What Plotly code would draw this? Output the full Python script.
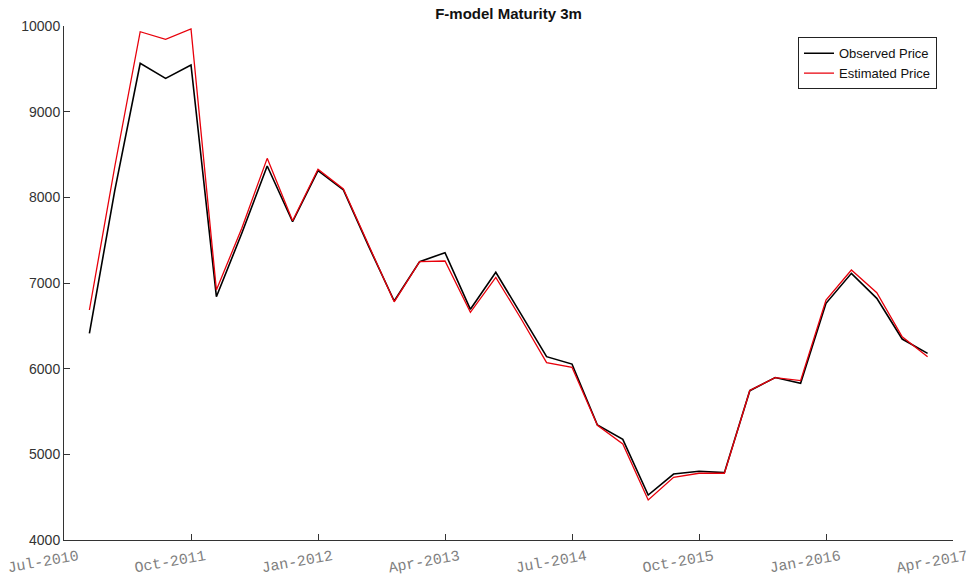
import plotly.graph_objects as go

# Quarterly observation index along the horizontal axis
period_index = list(range(1, 35))

observed_price = [
    6413, 8080, 9564, 9389, 9545, 6840, 7580, 8366, 7715, 8311,
    8086, 7424, 6790, 7249, 7354, 6693, 7125, 6640, 6140, 6054,
    5342, 5175, 4525, 4770, 4802, 4786, 5743, 5896, 5829, 6763,
    7113, 6821, 6346, 6179,
]

estimated_price = [
    6685, 8360, 9933, 9845, 9965, 6918, 7640, 8455, 7727, 8327,
    8097, 7430, 6780, 7249, 7257, 6658, 7066, 6580, 6070, 6016,
    5340, 5121, 4467, 4732, 4779, 4779, 5745, 5896, 5860, 6801,
    7152, 6887, 6373, 6140,
]

tick_positions = [0, 5, 10, 15, 20, 25, 30, 35]
tick_labels = ["Jul-2010", "Oct-2011", "Jan-2012", "Apr-2013",
               "Jul-2014", "Oct-2015", "Jan-2016", "Apr-2017"]

y_ticks = [4000, 5000, 6000, 7000, 8000, 9000, 10000]
y_tick_labels = [str(v) for v in y_ticks]

fig = go.Figure()
fig.add_trace(go.Scatter(
    x=period_index, y=observed_price, mode="lines",
    name="Observed Price", line=dict(color="black", width=1.6),
))
fig.add_trace(go.Scatter(
    x=period_index, y=estimated_price, mode="lines",
    name="Estimated Price", line=dict(color="#e8000b", width=1.3),
))

fig.update_layout(
    width=972, height=580,
    margin=dict(l=64, r=19, t=26, b=40, autoexpand=False),
    paper_bgcolor="white", plot_bgcolor="white",
    title=dict(
        text="<b>F-model Maturity 3m</b>",
        x=0.5, xref="paper", y=1, yref="container", yanchor="top", pad=dict(t=8),
        font=dict(family="Liberation Sans, Arial", size=15, color="#111"),
    ),
    legend=dict(
        x=0.982, y=0.978, xanchor="right", yanchor="top",
        bordercolor="#222", borderwidth=1, bgcolor="white",
        font=dict(family="Liberation Sans, Arial", size=13, color="#111"),
        tracegroupgap=0,
    ),
    showlegend=True,
)

fig.update_xaxes(
    range=[0, 35], tickmode="array", tickvals=tick_positions, ticktext=tick_labels,
    tickangle=-10, ticks="inside", ticklen=6, tickcolor="#333",
    showline=True, linecolor="#333", linewidth=1, showgrid=False, zeroline=False,
    tickfont=dict(family="Liberation Mono, Courier New", size=15, color="#808080"),
    ticklabelshift=14, ticklabelstandoff=1, ticklabeloverflow="allow",
    automargin=False,
)
fig.update_yaxes(
    range=[4000, 10000], tickmode="array", tickvals=y_ticks, ticktext=y_tick_labels,
    ticks="inside", ticklen=6, tickcolor="#333",
    showline=True, linecolor="#333", linewidth=1, showgrid=False, zeroline=False,
    tickfont=dict(family="Liberation Sans, Arial", size=14, color="#333"),
    automargin=False,
)

fig.write_html("out.html")
